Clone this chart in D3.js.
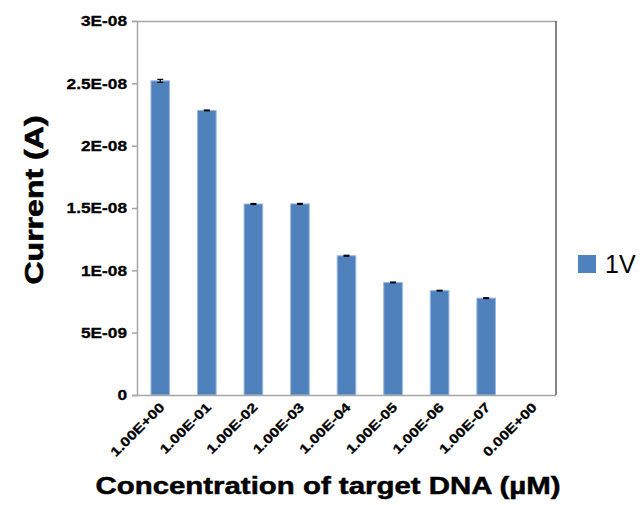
<!DOCTYPE html>
<html><head><meta charset="utf-8">
<script src="https://cdn.jsdelivr.net/npm/d3@7"></script>
<style>body{margin:0;background:#fff}svg{display:block}</style>
</head><body>
<svg id="c" width="643" height="505"></svg>
<script>
const categories = ["1.00E+00","1.00E-01","1.00E-02","1.00E-03","1.00E-04","1.00E-05","1.00E-06","1.00E-07","0.00E+00"];
const values = [2.52e-8, 2.283e-8, 1.532e-8, 1.533e-8, 1.117e-8, 9.03e-9, 8.37e-9, 7.77e-9, 0];
const errors = [1.2e-10, 3e-11, 4e-11, 4e-11, 4e-11, 3e-11, 3e-11, 3e-11, 0];
const yTicks = [0, 5e-9, 1e-8, 1.5e-8, 2e-8, 2.5e-8, 3e-8];
const yTickLabels = ["0","5E-09","1E-08","1.5E-08","2E-08","2.5E-08","3E-08"];
const seriesName = "1V";

const svg = d3.select("#c");
const L = 137, R = 556, T = 21, B = 395;
const x = d3.scaleBand().domain(categories).range([L, R]).paddingInner(0.6).paddingOuter(0.3);
const y = d3.scaleLinear().domain([0, 3e-8]).range([B, T]);
const font = "Arial, 'Liberation Sans', Helvetica, sans-serif";

function stretch(sel, f) {
  sel.each(function () {
    const w = this.getComputedTextLength();
    if (w > 0) d3.select(this).attr("textLength", w * f).attr("lengthAdjust", "spacingAndGlyphs");
  });
}

// plot border
svg.append("line").attr("x1", L).attr("x2", R).attr("y1", T + 0.5).attr("y2", T + 0.5).attr("stroke", "#a6a6a6").attr("stroke-width", 1.5);
svg.append("line").attr("x1", R).attr("x2", R).attr("y1", T).attr("y2", B).attr("stroke", "#333").attr("stroke-width", 1.2);

// bars
svg.selectAll("rect.bar").data(values).join("rect").attr("class", "bar")
  .attr("x", (d, i) => x(categories[i]))
  .attr("width", x.bandwidth())
  .attr("y", d => y(d))
  .attr("height", d => B - y(d))
  .attr("fill", d => d > 0 ? "#4f81bd" : "none")
  .attr("stroke", d => d > 0 ? "#9cb9dd" : "none")
  .attr("stroke-width", 1);

// error bars
const eg = svg.append("g").attr("stroke", "#000").attr("stroke-width", 1.2);
values.forEach((v, i) => {
  if (v <= 0) return;
  const cx = x(categories[i]) + x.bandwidth() / 2;
  const y1 = y(v + errors[i]), y2 = y(v - errors[i]);
  eg.append("line").attr("x1", cx).attr("x2", cx).attr("y1", y1).attr("y2", y2);
  eg.append("line").attr("x1", cx - 3).attr("x2", cx + 3).attr("y1", y1).attr("y2", y1);
  eg.append("line").attr("x1", cx - 3).attr("x2", cx + 3).attr("y1", y2).attr("y2", y2);
});

// y axis
const ya = svg.append("g").attr("transform", `translate(${L},0)`)
  .call(d3.axisLeft(y).tickValues(yTicks).tickFormat((d, i) => yTickLabels[i]).tickSize(5).tickPadding(5));
ya.select(".domain").attr("stroke", "#a6a6a6").attr("stroke-width", 1.5);
ya.selectAll(".tick line").attr("stroke", "#a6a6a6").attr("stroke-width", 1.5);
ya.selectAll("text").attr("font-family", font).attr("font-weight", "bold").attr("font-size", 15)
  .attr("fill", "#000").attr("stroke", "#000").attr("stroke-width", 0.3);
stretch(ya.selectAll("text"), 1.15);

// x axis
const xa = svg.append("g").attr("transform", `translate(0,${B})`)
  .call(d3.axisBottom(x).tickSize(0).tickPadding(0));
xa.select(".domain").attr("stroke", "#a6a6a6").attr("stroke-width", 1.5).attr("d", `M${L},0.5H${R}`);
xa.selectAll("text")
  .attr("font-family", font).attr("font-weight", "bold").attr("font-size", 13)
  .attr("fill", "#000").attr("stroke", "#000").attr("stroke-width", 0.3)
  .attr("text-anchor", "end").attr("dy", null).attr("y", 0)
  .attr("transform", "translate(5,13) rotate(-45)");
stretch(xa.selectAll("text"), 1.25);

// axis titles
const yt = svg.append("text").attr("transform", `translate(43,200) rotate(-90)`)
  .attr("text-anchor", "middle").attr("font-family", font).attr("font-weight", "bold")
  .attr("stroke", "#000").attr("stroke-width", 0.6)
  .attr("font-size", 26.5).text("Current (A)");
stretch(yt, 1.21);
const xt = svg.append("text").attr("x", 328).attr("y", 494)
  .attr("text-anchor", "middle").attr("font-family", font).attr("font-weight", "bold")
  .attr("stroke", "#000").attr("stroke-width", 0.5)
  .attr("font-size", 24).text("Concentration of target DNA (µM)");
stretch(xt, 1.225);

// legend
svg.append("rect").attr("x", 578).attr("y", 255).attr("width", 18).attr("height", 18).attr("fill", "#4f81bd");
svg.append("text").attr("x", 605).attr("y", 273).attr("font-family", font).attr("font-size", 25).text(seriesName);
</script>
</body></html>
